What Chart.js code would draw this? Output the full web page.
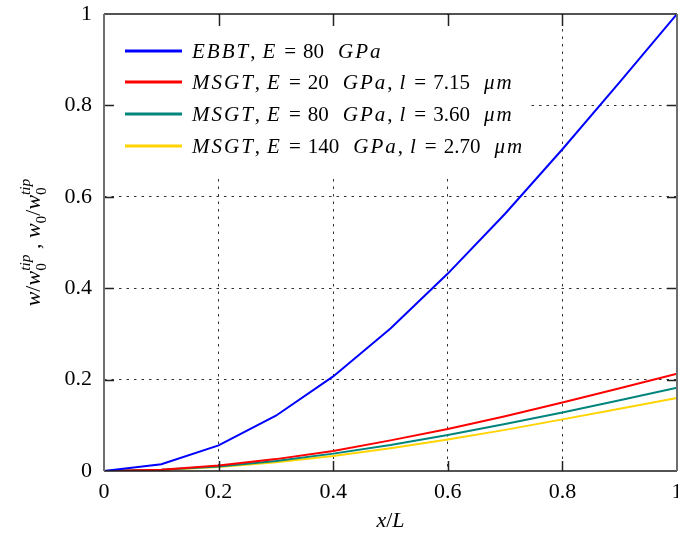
<!DOCTYPE html>
<html>
<head>
<meta charset="utf-8">
<script src="https://cdn.jsdelivr.net/npm/chart.js@4.4.1/dist/chart.umd.min.js"></script>
<style>
  html, body { margin: 0; padding: 0; background: #fff; }
</style>
</head>
<body>
<canvas id="deflection" width="678" height="536"></canvas>
<script>
// ---------- DATA ----------
const xValues = [0, 0.1, 0.2, 0.3, 0.4, 0.5, 0.6, 0.7, 0.8, 0.9, 1];
const ebbt     = [0, 0.015, 0.056, 0.121, 0.207, 0.312, 0.432, 0.563, 0.704, 0.851, 1.0];
const msgtE20  = [0, 0.003, 0.012, 0.026, 0.044, 0.067, 0.092, 0.120, 0.150, 0.181, 0.213];
const msgtE80  = [0, 0.0026, 0.010, 0.022, 0.038, 0.057, 0.079, 0.103, 0.128, 0.155, 0.182];
const msgtE140 = [0, 0.0023, 0.009, 0.019, 0.033, 0.050, 0.069, 0.090, 0.113, 0.136, 0.160];

const seriesLabels = [
  "EBBT, E = 80  GPa",
  "MSGT, E = 20  GPa, l = 7.15  μm",
  "MSGT, E = 80  GPa, l = 3.60  μm",
  "MSGT, E = 140  GPa, l = 2.70  μm"
];
const seriesColors = ["#0000ff", "#ff0000", "#00857d", "#ffd400"];
const seriesData = [ebbt, msgtE20, msgtE80, msgtE140];

const xTicks = [0, 0.2, 0.4, 0.6, 0.8, 1];
const yTicks = [0, 0.2, 0.4, 0.6, 0.8, 1];

const SERIF = '"Liberation Serif", "Times New Roman", serif';

// ---------- rich text helpers ----------
// italic letters, upright digits / punctuation, wider math spaces
function mathSegs(str) {
  const out = [];
  for (const ch of str) {
    const it = /[A-Za-zμ]/.test(ch);
    const c = ch === " " ? "\u2004" : ch;
    const last = out[out.length - 1];
    if (last && last.it === it) last.t += c;
    else out.push({ t: c, it: it, ls: it ? 2 : 0 });
  }
  return out;
}

function setFont(ctx, s, size) {
  const sz = size * (s.sc || 1);
  ctx.font = (s.it ? "italic " : "") + sz + "px " + SERIF;
  ctx.letterSpacing = (s.ls || 0) + "px";
}

function richWidth(ctx, segs, size) {
  let x = 0, start = 0, prevW = 0;
  segs.forEach((s) => {
    setFont(ctx, s, size);
    const w = ctx.measureText(s.t).width;
    if (s.stack) { x = start + Math.max(prevW, w); }
    else { start = x; x += w; }
    prevW = w;
  });
  return x;
}

function drawRich(ctx, segs, x0, y, size, align) {
  const total = richWidth(ctx, segs, size);
  let x = align === "center" ? x0 - total / 2 : x0;
  let start = x, prevW = 0;
  ctx.textBaseline = "alphabetic";
  ctx.textAlign = "left";
  ctx.fillStyle = "#000";
  segs.forEach((s) => {
    setFont(ctx, s, size);
    const w = ctx.measureText(s.t).width;
    if (s.stack) {
      ctx.fillText(s.t, start, y + (s.dy || 0) * size);
      x = start + Math.max(prevW, w);
    } else {
      start = x;
      ctx.fillText(s.t, x, y + (s.dy || 0) * size);
      x += w;
    }
    prevW = w;
  });
  ctx.letterSpacing = "0px";
}

// ---------- plugin: legend box, frame, inner ticks, axis titles ----------
const framePlugin = {
  id: "frame",
  beforeDatasetsDraw(chart) {
    const ctx = chart.ctx;
    const a = chart.chartArea;
    ctx.save();
    ctx.fillStyle = "#fff";
    ctx.fillRect(a.left + 1, a.top + 1, 424, 164);
    // legend entries
    const rowY = [51, 82, 114, 146];
    seriesLabels.forEach((lab, i) => {
      ctx.strokeStyle = seriesColors[i];
      ctx.lineWidth = 3;
      ctx.beginPath();
      ctx.moveTo(125, rowY[i]);
      ctx.lineTo(182, rowY[i]);
      ctx.stroke();
      drawRich(ctx, mathSegs(lab), 192, rowY[i] + 7, 21, "left");
    });
    ctx.restore();
  },
  afterDatasetsDraw(chart) {
    const ctx = chart.ctx;
    const a = chart.chartArea;
    const xs = chart.scales.x, ys = chart.scales.y;
    ctx.save();
    // inner ticks
    ctx.strokeStyle = "#222";
    ctx.lineWidth = 1.5;
    xTicks.slice(1, -1).forEach((v) => {
      const px = Math.round(xs.getPixelForValue(v)) + 0.5;
      ctx.beginPath();
      ctx.moveTo(px, a.bottom); ctx.lineTo(px, a.bottom - 10);
      ctx.moveTo(px, a.top); ctx.lineTo(px, a.top + 12);
      ctx.stroke();
    });
    yTicks.slice(1, -1).forEach((v) => {
      const py = Math.round(ys.getPixelForValue(v)) + 0.5;
      ctx.beginPath();
      ctx.moveTo(a.left, py); ctx.lineTo(a.left + 10, py);
      ctx.moveTo(a.right, py); ctx.lineTo(a.right - 10, py);
      ctx.stroke();
    });
    // frame
    ctx.lineWidth = 1.5;
    ctx.strokeStyle = "#1a1a1a";
    ctx.beginPath();
    ctx.moveTo(a.left, a.top); ctx.lineTo(a.right, a.top);
    ctx.moveTo(a.left, a.bottom); ctx.lineTo(a.right, a.bottom);
    ctx.stroke();
    ctx.lineWidth = 2;
    ctx.strokeStyle = "#6e6e6e";
    ctx.beginPath();
    ctx.moveTo(a.left, a.top); ctx.lineTo(a.left, a.bottom);
    ctx.moveTo(a.right, a.top); ctx.lineTo(a.right, a.bottom);
    ctx.stroke();

    // x axis title
    drawRich(ctx, [{ t: "x", it: true }, { t: "/", it: false }, { t: "L", it: true }],
      (a.left + a.right) / 2, 527, 22, "center");

    // y axis title, rotated
    ctx.translate(40, (a.top + a.bottom) / 2);
    ctx.rotate(-Math.PI / 2);
    const yTitle = [
      { t: "w", it: true }, { t: "/", it: false }, { t: "w", it: true },
      { t: "0", it: false, sc: 0.7, dy: 0.25 }, { t: "tip", it: true, sc: 0.7, dy: -0.45, stack: true },
      { t: " , ", it: false },
      { t: "w", it: true }, { t: "0", it: false, sc: 0.7, dy: 0.25 },
      { t: "/", it: false }, { t: "w", it: true },
      { t: "0", it: false, sc: 0.7, dy: 0.25 }, { t: "tip", it: true, sc: 0.7, dy: -0.45, stack: true }
    ];
    drawRich(ctx, yTitle, 0, 0, 22, "center");
    ctx.restore();
  }
};

// ---------- CHART ----------
const gridColor = (c) => {
  const v = c.tick ? c.tick.value : null;
  return v === 0 || v === 1 ? "rgba(0,0,0,0)" : "#333";
};
const fmt = (v) => String(Math.round(v * 10) / 10);

new Chart(document.getElementById("deflection").getContext("2d"), {
  type: "line",
  data: {
    datasets: seriesData.map((d, i) => ({
      label: seriesLabels[i],
      data: xValues.map((x, j) => ({ x: x, y: d[j] })),
      borderColor: seriesColors[i],
      backgroundColor: seriesColors[i],
      borderWidth: 2,
      pointRadius: 0,
      tension: 0,
      fill: false
    }))
  },
  options: {
    responsive: false,
    animation: false,
    layout: { padding: { top: 14, right: 1, left: 0, bottom: 0 } },
    plugins: { legend: { display: false }, tooltip: { enabled: false } },
    scales: {
      x: {
        type: "linear",
        min: 0,
        max: 1,
        afterFit: (s) => { s.height = 65; s.paddingRight = 0; s.paddingLeft = 0; },
        afterBuildTicks: (s) => { s.ticks = xTicks.map((v) => ({ value: v })); },
        ticks: {
          color: "#000",
          padding: 8,
          font: { family: SERIF, size: 22 },
          maxRotation: 0,
          callback: fmt
        },
        grid: { color: gridColor, lineWidth: 1, drawTicks: false, tickLength: 0 },
        border: { display: false, dash: [2.5, 5] }
      },
      y: {
        type: "linear",
        min: 0,
        max: 1,
        afterFit: (s) => { s.width = 104; s.paddingTop = 0; s.paddingBottom = 0; },
        afterBuildTicks: (s) => { s.ticks = yTicks.map((v) => ({ value: v })); },
        ticks: {
          color: "#000",
          padding: 12,
          font: { family: SERIF, size: 22 },
          callback: fmt
        },
        grid: { color: gridColor, lineWidth: 1, drawTicks: false, tickLength: 0 },
        border: { display: false, dash: [2.5, 5] }
      }
    }
  },
  plugins: [framePlugin]
});
</script>
</body>
</html>
